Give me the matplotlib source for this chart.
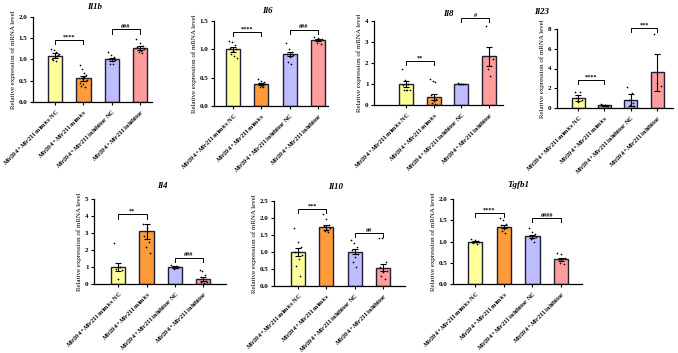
import numpy as np
import matplotlib.pyplot as plt

plt.rcParams['font.family'] = 'Liberation Serif'
plt.rcParams['font.weight'] = 'bold'
plt.rcParams['mathtext.fontset'] = 'custom'
plt.rcParams['mathtext.it'] = 'Liberation Serif:italic:bold'
plt.rcParams['mathtext.rm'] = 'Liberation Serif:bold'
plt.rcParams['mathtext.bf'] = 'Liberation Serif:bold'

GROUPS = [r'$Mir204$ +$Mir211$ mimics NC',
          r'$Mir204$ +$Mir211$ mimics',
          r'$Mir204$ +$Mir211$ inhibitor NC',
          r'$Mir204$ +$Mir211$ inhibitor']
COLORS = ['#FFFF99', '#FF9B3A', '#BDBDFF', '#FF9C9C']

# --- data (mean, sem, individual points per group) ---
il1b_mean = [1.09, 0.55, 1.00, 1.26]
il1b_sem = [0.05, 0.05, 0.04, 0.05]
il1b_pts = [[1.25, 1.22, 1.18, 1.12, 1.08, 1.05, 1.02, 0.98, 0.95, 1.10],
            [0.87, 0.78, 0.68, 0.62, 0.58, 0.55, 0.50, 0.45, 0.42, 0.38, 0.35, 0.52],
            [1.18, 1.10, 1.05, 1.02, 0.98, 0.95, 0.90, 0.88],
            [1.48, 1.38, 1.32, 1.28, 1.25, 1.20, 1.18, 1.15]]

il6_mean = [1.00, 0.39, 0.92, 1.17]
il6_sem = [0.04, 0.02, 0.04, 0.02]
il6_pts = [[1.15, 1.13, 1.08, 1.02, 1.00, 0.97, 0.92, 0.88, 0.85],
           [0.47, 0.45, 0.42, 0.40, 0.38, 0.36, 0.34, 0.33],
           [1.12, 1.00, 0.95, 0.92, 0.90, 0.86, 0.78, 0.75],
           [1.22, 1.20, 1.18, 1.17, 1.15, 1.12, 1.10]]

il8_mean = [1.00, 0.38, 1.00, 2.33]
il8_sem = [0.15, 0.15, 0.02, 0.45]
il8_pts = [[1.70, 1.20, 1.00, 0.95, 0.70, 0.70, 0.70, 0.70],
           [1.25, 1.15, 1.10, 0.50, 0.30, 0.20, 0.10, 0.05, 0.02],
           [1.05, 1.02, 1.00, 0.98, 1.00],
           [3.75, 2.20, 1.70, 1.40]]

il23_mean = [1.00, 0.30, 0.85, 3.60]
il23_sem = [0.30, 0.05, 0.60, 1.85]
il23_pts = [[1.60, 1.60, 1.00, 0.80, 0.60],
            [0.40, 0.35, 0.30, 0.25, 0.20, 0.20],
            [2.10, 1.50, 0.80, 0.50, 0.30, 0.20],
            [7.50, 2.50, 2.20]]

il4_mean = [1.00, 3.10, 1.00, 0.30]
il4_sem = [0.25, 0.45, 0.05, 0.10]
il4_pts = [[2.40, 1.00, 0.90, 0.80, 0.30],
           [3.50, 3.30, 2.80, 2.50, 2.20, 1.80],
           [1.10, 1.05, 1.00, 0.95, 0.90, 1.00],
           [0.85, 0.75, 0.55, 0.40, 0.20, 0.15, 0.10, 0.05, 0.10]]

il10_mean = [1.00, 1.72, 1.00, 0.54]
il10_sem = [0.12, 0.07, 0.07, 0.11]
il10_pts = [[1.70, 1.30, 1.15, 1.00, 0.90, 0.80, 0.60, 0.30],
            [2.10, 1.95, 1.80, 1.75, 1.70, 1.65, 1.60, 1.58],
            [1.35, 1.25, 1.15, 1.05, 0.95, 0.85, 0.70, 0.55],
            [1.40, 1.40, 0.70, 0.55, 0.45, 0.40, 0.30, 0.20]]

tgfb1_mean = [1.00, 1.35, 1.12, 0.58]
tgfb1_sem = [0.02, 0.04, 0.04, 0.03]
tgfb1_pts = [[1.05, 1.03, 1.02, 1.00, 0.99, 0.98, 0.97, 0.95],
             [1.55, 1.50, 1.42, 1.38, 1.35, 1.30, 1.25, 1.20],
             [1.32, 1.22, 1.18, 1.14, 1.10, 1.08, 1.05, 1.00],
             [0.72, 0.70, 0.62, 0.58, 0.55, 0.50, 0.48]]

W, H = 678, 353
fig = plt.figure(figsize=(W / 100, H / 100), dpi=100)


def px_axes(left, right, bottom, top):
    return fig.add_axes([left / W, 1 - bottom / H, (right - left) / W, (bottom - top) / H])


def draw(ax, means, sems, pts, yticks, fmt, xlim, sig1, sig2):
    x = np.arange(4)
    ax.bar(x, means, width=0.5, color=COLORS, edgecolor='#1d1d33', linewidth=1.0, zorder=1)
    ax.errorbar(x, means, yerr=sems, fmt='none', ecolor='black', elinewidth=0.8,
                capsize=2, capthick=0.8, zorder=3)
    for i, p in enumerate(pts):
        jit = np.linspace(-0.13, 0.13, len(p))[np.argsort(np.arange(len(p)) % 3)]
        ax.scatter(i + jit, p, s=1.5, color='black', zorder=4, clip_on=False, linewidths=0)
    ax.set_ylim(yticks[0], yticks[-1])
    ax.set_yticks(yticks)
    ax.set_yticklabels([fmt.format(t) for t in yticks], fontsize=5)
    ax.set_xlim(*xlim)
    ax.set_xticks(x)
    ax.set_xticklabels(GROUPS, rotation=45, ha='right', rotation_mode='anchor', fontsize=4.5)
    ax.set_ylabel('Relative expression of mRNA level', fontsize=5, labelpad=2)
    for s in ['top', 'right']:
        ax.spines[s].set_visible(False)
    for s in ['left', 'bottom']:
        ax.spines[s].set_linewidth(0.9)
    ax.tick_params(length=2.5, width=0.8, pad=1.5)
    h = (yticks[-1] - yticks[0]) * 0.05
    for (i, j, y, txt) in (sig1, sig2):
        ax.plot([i, i, j, j], [y - h, y, y, y - h], color='black', lw=0.7, clip_on=False)
        ax.text((i + j) / 2, y + h * 0.1, txt, ha='center', va='bottom', fontsize=4.5, clip_on=False)


# top row
ax = px_axes(33, 152, 101.7, 17)
draw(ax, il1b_mean, il1b_sem, il1b_pts, [0, 0.5, 1.0, 1.5, 2.0], '{:.1f}', (-0.78, 3.42),
     (0, 1, 1.46, '****'), (2, 3, 1.71, '###'))
ax = px_axes(214, 328, 106, 21)
draw(ax, il6_mean, il6_sem, il6_pts, [0, 0.5, 1.0, 1.5], '{:.1f}', (-0.67, 3.35),
     (0, 1, 1.31, '****'), (2, 3, 1.35, '###'))
ax = px_axes(374, 503, 105, 21)
draw(ax, il8_mean, il8_sem, il8_pts, [0, 1, 2, 3, 4], '{:.0f}', (-1.15, 3.5),
     (0, 1, 2.1, '**'), (2, 3, 4.13, '#'))
ax = px_axes(557, 673, 108, 29)
draw(ax, il23_mean, il23_sem, il23_pts, [0, 2, 4, 6, 8], '{:.0f}', (-0.8, 3.6),
     (0, 1, 2.84, '****'), (2, 3, 8.13, '***'))

# bottom row
ax = px_axes(94, 226, 284, 199)
draw(ax, il4_mean, il4_sem, il4_pts, [0, 1, 2, 3, 4, 5], '{:.0f}', (-0.85, 3.8),
     (0, 1, 4.1, '**'), (2, 3, 1.55, '###'))
ax = px_axes(274, 405, 286, 200.7)
draw(ax, il10_mean, il10_sem, il10_pts, [0, 0.5, 1.0, 1.5, 2.0, 2.5], '{:.1f}', (-0.85, 3.78),
     (0, 1, 2.25, '***'), (2, 3, 1.55, '##'))
ax = px_axes(453, 582, 284, 199)
draw(ax, tgfb1_mean, tgfb1_sem, tgfb1_pts, [0, 0.5, 1.0, 1.5, 2.0], '{:.1f}', (-0.77, 3.73),
     (0, 1, 1.68, '****'), (2, 3, 1.55, '####'))

TITLES = ['Il1b', 'Il6', 'Il8', 'Il23', 'Il4', 'Il10', 'Tgfb1']
title_px = [(95, 7), (267, 11), (448, 14), (542, 12), (162, 186), (336, 187), (518, 185)]
for t, (tx, ty) in zip(TITLES, title_px):
    fig.text(tx / W, 1 - ty / H, t, ha='center', va='center', fontsize=6.5,
             style='italic', weight='bold')

fig.savefig('out.png', dpi=100)
